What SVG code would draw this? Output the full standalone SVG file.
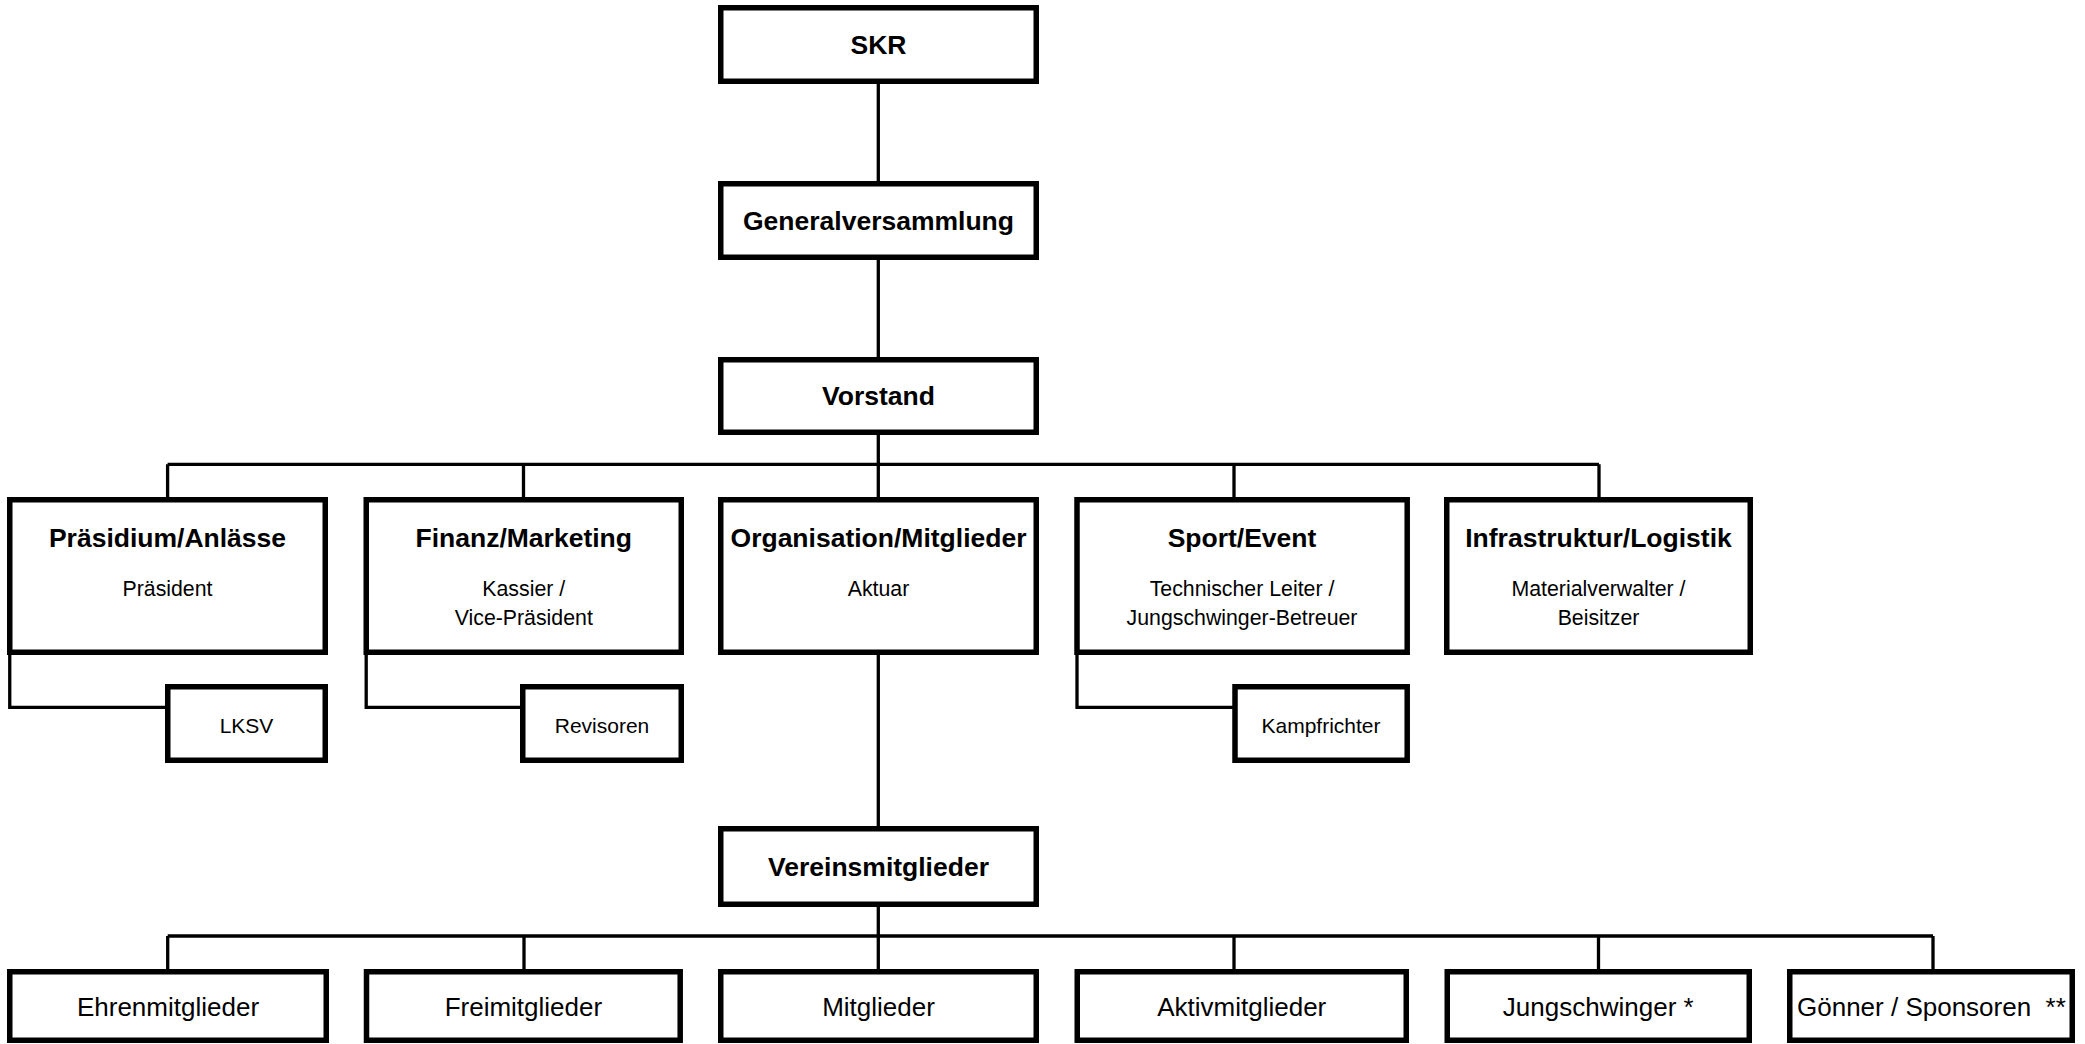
<svg xmlns="http://www.w3.org/2000/svg" width="2085" height="1044" viewBox="0 0 2085 1044">
<style>
.box{fill:#fff;stroke:#000;stroke-width:5.5}
.ln{fill:none;stroke:#000;stroke-width:3.3}
text{font-family:"Liberation Sans",Arial,sans-serif;fill:#000;text-anchor:middle}
.t{font-size:26.5px;font-weight:bold}
.s{font-size:21.3px}
.k{font-size:21px}
.b{font-size:26px}
</style>
<rect width="2085" height="1044" fill="#fff"/>
<g id="connectors">
<path class="ln" d="M878.3 84 V181 M878.3 260 V357 M878.3 435 V497 M878.3 655 V826 M878.3 907 V969"/>
<path class="ln" d="M167.6 464.3 H1599 M167.6 464.3 V497 M523.5 464.3 V497 M1234 464.3 V497 M1599 464.3 V497"/>
<path class="ln" d="M9.75 655 V707.3 H167.75 M366.2 655 V707.3 H522.75 M1077 655 V707.3 H1235"/>
<path class="ln" d="M167.7 936 H1933 M167.7 936 V969 M524 936 V969 M1234 936 V969 M1598.5 936 V969 M1933 936 V969"/>
</g>
<g id="skr"><rect class="box" x="720.75" y="7.75" width="315.5" height="73.5"/><text class="t" x="878.5" y="54">SKR</text></g>
<g id="generalversammlung"><rect class="box" x="720.75" y="183.75" width="315.5" height="73.5"/><text class="t" x="878.5" y="229.5">Generalversammlung</text></g>
<g id="vorstand"><rect class="box" x="720.75" y="359.75" width="315.5" height="72.5"/><text class="t" x="878.5" y="405">Vorstand</text></g>
<g id="praesidium"><rect class="box" x="9.75" y="499.75" width="315.5" height="152.5"/><text class="t" x="167.5" y="546.7">Präsidium/Anlässe</text><text class="s" x="167.5" y="595.7">Präsident</text></g>
<g id="finanz"><rect class="box" x="366.25" y="499.75" width="315" height="152.5"/><text class="t" x="523.75" y="546.7">Finanz/Marketing</text><text class="s" x="523.75" y="595.7">Kassier /</text><text class="s" x="523.75" y="625">Vice-Präsident</text></g>
<g id="organisation"><rect class="box" x="720.75" y="499.75" width="315.5" height="152.5"/><text class="t" x="878.5" y="546.7">Organisation/Mitglieder</text><text class="s" x="878.5" y="595.7">Aktuar</text></g>
<g id="sport"><rect class="box" x="1077" y="499.75" width="330.2" height="152.5"/><text class="t" x="1242" y="546.7">Sport/Event</text><text class="s" x="1242" y="595.7">Technischer Leiter /</text><text class="s" x="1242" y="625">Jungschwinger-Betreuer</text></g>
<g id="infrastruktur"><rect class="box" x="1446.75" y="499.75" width="303.5" height="152.5"/><text class="t" x="1598.5" y="546.7">Infrastruktur/Logistik</text><text class="s" x="1598.5" y="595.7">Materialverwalter /</text><text class="s" x="1598.5" y="625">Beisitzer</text></g>
<g id="lksv"><rect class="box" x="167.75" y="686.75" width="157.5" height="73.5"/><text class="k" x="246.5" y="733.3">LKSV</text></g>
<g id="revisoren"><rect class="box" x="522.75" y="686.75" width="158.5" height="73.5"/><text class="k" x="602" y="733.3">Revisoren</text></g>
<g id="kampfrichter"><rect class="box" x="1235" y="686.75" width="172.2" height="73.5"/><text class="k" x="1321" y="733.3">Kampfrichter</text></g>
<g id="vereinsmitglieder"><rect class="box" x="720.75" y="828.75" width="315.5" height="75.5"/><text class="t" x="878.5" y="875.5">Vereinsmitglieder</text></g>
<g id="ehrenmitglieder"><rect class="box" x="9.75" y="971.75" width="316.5" height="68.5"/><text class="b" x="168" y="1016">Ehrenmitglieder</text></g>
<g id="freimitglieder"><rect class="box" x="366.5" y="971.75" width="313.7" height="68.5"/><text class="b" x="523.4" y="1016">Freimitglieder</text></g>
<g id="mitglieder"><rect class="box" x="720.75" y="971.75" width="315.5" height="68.5"/><text class="b" x="878.5" y="1016">Mitglieder</text></g>
<g id="aktivmitglieder"><rect class="box" x="1077.25" y="971.75" width="329" height="68.5"/><text class="b" x="1241.75" y="1016">Aktivmitglieder</text></g>
<g id="jungschwinger"><rect class="box" x="1447.25" y="971.75" width="302" height="68.5"/><text class="b" x="1598.25" y="1016">Jungschwinger *</text></g>
<g id="goenner"><rect class="box" x="1789.75" y="971.75" width="282.5" height="68.5"/><text class="b" x="1797" y="1016" style="text-anchor:start" xml:space="preserve">Gönner / Sponsoren  **</text></g>
</svg>
